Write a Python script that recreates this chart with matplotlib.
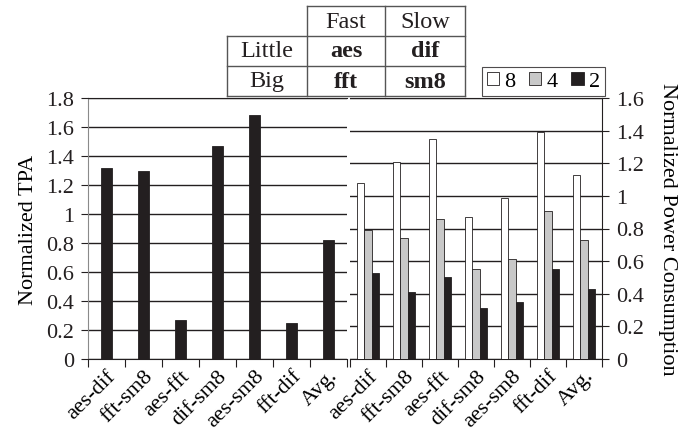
import numpy as np
import matplotlib.pyplot as plt
from matplotlib.patches import Patch
from matplotlib.lines import Line2D

plt.rcParams['font.family'] = ['Liberation Serif', 'DejaVu Serif']
plt.rcParams['font.size'] = 16

INK = '#231f20'

# datos
pairs = ['aes-dif', 'fft-sm8', 'aes-fft', 'dif-sm8', 'aes-sm8', 'fft-dif', 'Avg.']
tpa = [1.32, 1.30, 0.27, 1.47, 1.68, 0.25, 0.82]
power_8 = [1.08, 1.21, 1.35, 0.87, 0.99, 1.39, 1.13]
power_4 = [0.79, 0.74, 0.86, 0.55, 0.61, 0.91, 0.73]
power_2 = [0.53, 0.41, 0.50, 0.31, 0.35, 0.55, 0.43]
series_names = ['8', '4', '2']
series_colors = ['white', '#c8c8c8', INK]

# tabla superior
table_cols = ['', 'Fast', 'Slow']
table_rows = [['Little', 'aes', 'dif'], ['Big', 'fft', 'sm8']]

W, H = 693, 439
fig = plt.figure(figsize=(W / 100, H / 100), dpi=100)


def fx(px):
    return px / W


def fy(py):
    return 1 - py / H


ax1 = fig.add_axes([fx(88), fy(360), fx(346.7) - fx(88), fy(99) - fy(360)])
ax2 = fig.add_axes([fx(350), fy(360), fx(602) - fx(350), fy(99) - fy(360)])

x = np.arange(len(pairs))

# panel izquierdo: TPA
ax1.bar(x, tpa, width=0.3, color=INK, edgecolor=INK, linewidth=0.6, zorder=3)
ax1.set_xlim(-0.5, len(pairs) - 0.5)
ax1.set_ylim(0, 1.8)
yt1 = np.round(np.arange(0, 1.81, 0.2), 1)
ax1.set_yticks(yt1)
ax1.set_yticklabels(['%g' % v for v in yt1])
ax1.set_ylabel('Normalized TPA', labelpad=6)
ax1.spines['right'].set_visible(False)
ax1.spines['left'].set_color('#8a8a8a')
ax1.spines['top'].set_color(INK)
ax1.spines['bottom'].set_color(INK)

# panel derecho: potencia
w = 0.2
for i, (vals, col) in enumerate(zip([power_8, power_4, power_2], series_colors)):
    ax2.bar(x + (i - 1) * w, vals, width=w, color=col, edgecolor=INK,
            linewidth=0.6, zorder=3)
ax2.set_xlim(-0.5, len(pairs) - 0.5)
ax2.set_ylim(0, 1.6)
yt2 = np.round(np.arange(0, 1.61, 0.2), 1)
ax2.yaxis.tick_right()
ax2.yaxis.set_label_position('right')
ax2.set_yticks(yt2)
ax2.set_yticklabels(['%g' % v for v in yt2])
ax2.set_ylabel('Normalized Power Consumption', rotation=270, labelpad=24)
ax2.spines['left'].set_visible(False)
ax2.spines['right'].set_color(INK)
ax2.spines['top'].set_color(INK)
ax2.spines['bottom'].set_color(INK)

for ax in (ax1, ax2):
    ax.yaxis.grid(True, color=INK, linewidth=1.0, zorder=0)
    ax.set_axisbelow(True)
    ax.set_xticks(np.arange(-0.5, len(pairs)), minor=False)
    ax.set_xticklabels([])
    ax.set_xticks(x, minor=True)
    ax.set_xticklabels(pairs, minor=True, rotation=45, ha='right',
                       rotation_mode='anchor')
    ax.tick_params(axis='x', which='major', length=6, direction='out', color=INK)
    ax.tick_params(axis='x', which='minor', length=0, pad=5)
    ax.tick_params(axis='y', length=5, direction='out', color=INK, pad=5)
    ax.tick_params(colors=INK, labelcolor=INK)

# leyenda
handles = [Patch(facecolor=c, edgecolor=INK, linewidth=0.6) for c in series_colors]
leg = fig.legend(handles, series_names, ncol=3, loc='center',
                 bbox_to_anchor=(fx(543.5), fy(82.5)), frameon=True, fancybox=False,
                 handlelength=0.55, handleheight=0.55, handletextpad=0.25,
                 columnspacing=0.6, borderpad=0.2, borderaxespad=0, fontsize=16)
leg.get_frame().set_edgecolor(INK)
leg.get_frame().set_linewidth(0.8)

# tabla dibujada con líneas
col_x = [226.7, 306.7, 385.3, 465]
row_y = [7.3, 36.7, 66.7, 97.3]
lines = [
    ((col_x[1], col_x[3]), (row_y[0], row_y[0])),
    ((col_x[0], col_x[3]), (row_y[1], row_y[1])),
    ((col_x[0], col_x[3]), (row_y[2], row_y[2])),
    ((col_x[0], col_x[3]), (row_y[3], row_y[3])),
    ((col_x[0], col_x[0]), (row_y[1], row_y[3])),
    ((col_x[1], col_x[1]), (row_y[0], row_y[3])),
    ((col_x[2], col_x[2]), (row_y[0], row_y[3])),
    ((col_x[3], col_x[3]), (row_y[0], row_y[3])),
]
for xs, ys in lines:
    fig.add_artist(Line2D([fx(v) for v in xs], [fy(v) for v in ys],
                          color='#555555', linewidth=1.0))

all_rows = [table_cols] + table_rows
for r, row in enumerate(all_rows):
    cy = (row_y[r] + row_y[r + 1]) / 2
    for c, txt in enumerate(row):
        cx = (col_x[c] + col_x[c + 1]) / 2
        bold = r > 0 and c > 0
        fig.text(fx(cx), fy(cy), txt, ha='center', va='center', fontsize=17.5,
                 color=INK, fontweight='bold' if bold else 'normal')

plt.savefig('out.png', dpi=100)
